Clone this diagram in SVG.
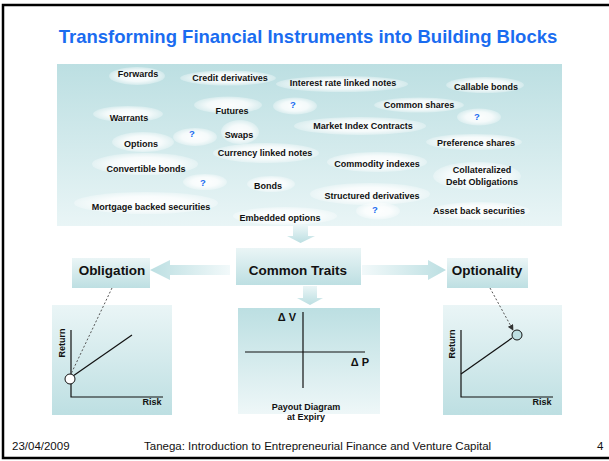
<svg xmlns="http://www.w3.org/2000/svg" width="609" height="461" viewBox="0 0 609 461">
<defs>
<linearGradient id="gPanel" x1="0" y1="0" x2="0" y2="1"><stop offset="0" stop-color="#bcdfe2"/><stop offset="1" stop-color="#e9f5f6"/></linearGradient>
<linearGradient id="gBox" x1="0" y1="0" x2="0" y2="1"><stop offset="0" stop-color="#eaf5f6"/><stop offset="1" stop-color="#bddfe2"/></linearGradient>
<linearGradient id="gUp" x1="0" y1="0" x2="0" y2="1"><stop offset="0" stop-color="#bcdfe2"/><stop offset="1" stop-color="#eef7f8"/></linearGradient>
<linearGradient id="gL" x1="0" y1="0" x2="1" y2="0"><stop offset="0" stop-color="#bcdfe2"/><stop offset="1" stop-color="#f2f9fa"/></linearGradient>
<linearGradient id="gR" x1="0" y1="0" x2="1" y2="0"><stop offset="0" stop-color="#f2f9fa"/><stop offset="1" stop-color="#bcdfe2"/></linearGradient>
<linearGradient id="gD" x1="0" y1="0" x2="0" y2="1"><stop offset="0" stop-color="#eaf5f6"/><stop offset="1" stop-color="#bcdfe2"/></linearGradient>
<radialGradient id="gEll" cx="0.5" cy="0.5" r="0.5"><stop offset="0" stop-color="#ffffff" stop-opacity="0.95"/><stop offset="0.6" stop-color="#ffffff" stop-opacity="0.8"/><stop offset="1" stop-color="#ffffff" stop-opacity="0.3"/></radialGradient>
<marker id="ah" viewBox="0 0 8 8" refX="7" refY="4" markerWidth="6" markerHeight="6" orient="auto"><path d="M0,0 L8,4 L0,8 Z" fill="#333"/></marker>
<style>
.lbl{font-family:"Liberation Sans",Arial,sans-serif;font-weight:bold;font-size:9px;fill:#111;text-anchor:middle}
.q{font-family:"Liberation Sans",Arial,sans-serif;font-weight:bold;font-size:9.5px;fill:#1a6cf0;text-anchor:middle}
.ell{fill:url(#gEll)}
.big{font-family:"Liberation Sans",Arial,sans-serif;font-weight:bold;font-size:13.5px;fill:#111;text-anchor:middle}
.ax{stroke:#111;stroke-width:1.2;fill:none}
.sm{font-family:"Liberation Sans",Arial,sans-serif;font-weight:bold;font-size:9px;fill:#111}
.dot{stroke:#555;stroke-width:1;stroke-dasharray:2,2;fill:none}
.ft{font-family:"Liberation Sans",Arial,sans-serif;font-size:11.5px;fill:#111}
</style>
</defs>
<rect x="0" y="0" width="609" height="461" fill="#ffffff"/>
<path d="M609 5 H3 V458 H609" fill="none" stroke="#000" stroke-width="2.5"/>
<text x="308" y="42.5" style="font-family:'Liberation Sans',Arial,sans-serif;font-weight:bold;font-size:18.5px;fill:#1a6cf0;text-anchor:middle">Transforming Financial Instruments into Building Blocks</text>

<g id="instruments">
<rect x="57" y="64" width="505" height="162" fill="url(#gPanel)"/>
<g id="n-forwards"><ellipse class="ell" cx="137" cy="76" rx="28" ry="9"/><text class="lbl" x="138" y="77">Forwards</text></g>
<g id="n-credit"><ellipse class="ell" cx="228" cy="78" rx="48" ry="7.5"/><text class="lbl" x="230" y="81">Credit derivatives</text></g>
<g id="n-interest"><ellipse class="ell" cx="342" cy="84" rx="66" ry="8"/><text class="lbl" x="343" y="86">Interest rate linked notes</text></g>
<g id="n-callable"><ellipse class="ell" cx="485" cy="85" rx="39" ry="8"/><text class="lbl" x="486" y="90">Callable bonds</text></g>
<g id="n-warrants"><ellipse class="ell" cx="128" cy="114" rx="35" ry="8"/><text class="lbl" x="129" y="121">Warrants</text></g>
<g id="n-futures"><ellipse class="ell" cx="228" cy="105" rx="34" ry="8.5"/><text class="lbl" x="232" y="114">Futures</text></g>
<g id="n-q1"><ellipse class="ell" cx="295" cy="106" rx="22" ry="8.5"/><text class="q" x="293" y="108">?</text></g>
<g id="n-common"><ellipse class="ell" cx="419" cy="105" rx="45" ry="7.5"/><text class="lbl" x="419" y="108">Common shares</text></g>
<g id="n-q2"><ellipse class="ell" cx="479" cy="117" rx="22" ry="8.5"/><text class="q" x="477" y="120">?</text></g>
<g id="n-market"><ellipse class="ell" cx="360" cy="126" rx="66" ry="9"/><text class="lbl" x="363" y="129">Market Index Contracts</text></g>
<g id="n-options"><ellipse class="ell" cx="143" cy="142" rx="31" ry="10"/><text class="lbl" x="141" y="147">Options</text></g>
<g id="n-q3"><ellipse class="ell" cx="195" cy="137" rx="22" ry="9"/><text class="q" x="192" y="137">?</text></g>
<g id="n-swaps"><ellipse class="ell" cx="240" cy="132" rx="19" ry="12"/><text class="lbl" x="239" y="138">Swaps</text></g>
<g id="n-preference"><ellipse class="ell" cx="474" cy="142" rx="48" ry="8"/><text class="lbl" x="476" y="146">Preference shares</text></g>
<g id="n-currency"><ellipse class="ell" cx="266" cy="153" rx="53" ry="10"/><text class="lbl" x="265" y="156">Currency linked notes</text></g>
<g id="n-convertible"><ellipse class="ell" cx="145" cy="164" rx="53" ry="11"/><text class="lbl" x="146" y="172">Convertible bonds</text></g>
<g id="n-commodity"><ellipse class="ell" cx="377" cy="162" rx="50" ry="10"/><text class="lbl" x="377" y="167">Commodity indexes</text></g>
<g id="n-cdo"><ellipse class="ell" cx="477" cy="176" rx="44" ry="14"/><text class="lbl" x="482" y="173">Collateralized</text><text class="lbl" x="482" y="185">Debt Obligations</text></g>
<g id="n-q4"><ellipse class="ell" cx="205" cy="182" rx="22" ry="8"/><text class="q" x="203" y="186">?</text></g>
<g id="n-bonds"><ellipse class="ell" cx="271" cy="184" rx="24" ry="8"/><text class="lbl" x="268" y="189">Bonds</text></g>
<g id="n-structured"><ellipse class="ell" cx="370" cy="194" rx="60" ry="11"/><text class="lbl" x="372" y="199">Structured derivatives</text></g>
<g id="n-q5"><ellipse class="ell" cx="378" cy="211" rx="22" ry="8.5"/><text class="q" x="375" y="213">?</text></g>
<g id="n-mortgage"><ellipse class="ell" cx="146" cy="203" rx="72" ry="11"/><text class="lbl" x="151" y="210">Mortgage backed securities</text></g>
<g id="n-embedded"><ellipse class="ell" cx="285" cy="216" rx="52" ry="9"/><text class="lbl" x="280" y="221">Embedded options</text></g>
<g id="n-asset"><ellipse class="ell" cx="480" cy="211" rx="50" ry="9"/><text class="lbl" x="479" y="214">Asset back securities</text></g>
</g>

<g id="common-traits"><rect x="236" y="248" width="125" height="37" fill="url(#gBox)"/><text class="big" x="298" y="275">Common Traits</text></g>
<g id="obligation"><rect x="72" y="258" width="78" height="30" fill="url(#gBox)"/><text class="big" x="112" y="275">Obligation</text></g>
<g id="optionality"><rect x="447" y="258" width="81" height="30" fill="url(#gBox)"/><text class="big" x="487" y="275">Optionality</text></g>

<g id="chart-obligation">
<rect x="52" y="305" width="120" height="110" fill="url(#gBox)"/>
<path class="ax" d="M71 330 V397 H163"/>
<line class="ax" x1="73" y1="376" x2="132" y2="335"/>
<circle cx="70" cy="379" r="5" fill="#ffffff" stroke="#111" stroke-width="1"/>
<text class="sm" transform="translate(65,343) rotate(-90)" text-anchor="middle">Return</text>
<text class="sm" x="152" y="405" text-anchor="middle">Risk</text>
</g>

<g id="payout">
<rect x="238" y="308" width="142" height="106" fill="url(#gUp)"/>
<line class="ax" x1="303" y1="312" x2="303" y2="388"/>
<line class="ax" x1="245" y1="352" x2="365" y2="352"/>
<text x="287" y="321" style="font-family:'Liberation Sans',Arial,sans-serif;font-weight:bold;font-size:11px;fill:#111;text-anchor:middle">Δ V</text>
<text x="360" y="366" style="font-family:'Liberation Sans',Arial,sans-serif;font-weight:bold;font-size:11px;fill:#111;text-anchor:middle">Δ P</text>
<text class="sm" x="306" y="410" text-anchor="middle">Payout Diagram</text>
<text class="sm" x="306" y="420" text-anchor="middle">at Expiry</text>
</g>

<g id="chart-optionality">
<rect x="443" y="305" width="119" height="110" fill="url(#gBox)"/>
<path class="ax" d="M461 330 V397 H553"/>
<line class="ax" x1="461" y1="374" x2="512" y2="338"/>
<circle cx="517" cy="335" r="5" fill="#bddfe2" stroke="#111" stroke-width="1"/>
<text class="sm" transform="translate(455,344) rotate(-90)" text-anchor="middle">Return</text>
<text class="sm" x="542" y="405" text-anchor="middle">Risk</text>
</g>

<g id="connectors">
<path d="M293 226 H308 V236 H315 L300.5 243 L287 236 H293 Z" fill="url(#gD)"/>
<path d="M230 265 H170 V260 L150 270 L170 280 V275 H230 Z" fill="url(#gL)"/>
<path d="M362 265 H428 V260 L446 270 L428 280 V275 H362 Z" fill="url(#gR)"/>
<path d="M303 286 H317 V298 H323 L310 305 L297 298 H303 Z" fill="url(#gD)"/>
<line class="dot" x1="112" y1="288" x2="71" y2="374"/>
<line class="dot" x1="490" y1="288" x2="513" y2="330" marker-end="url(#ah)"/>
</g>

<text class="ft" x="12" y="450">23/04/2009</text>
<text class="ft" x="144" y="450">Tanega:  Introduction to Entrepreneurial Finance and Venture Capital</text>
<text class="ft" x="597" y="450">4</text>
</svg>
